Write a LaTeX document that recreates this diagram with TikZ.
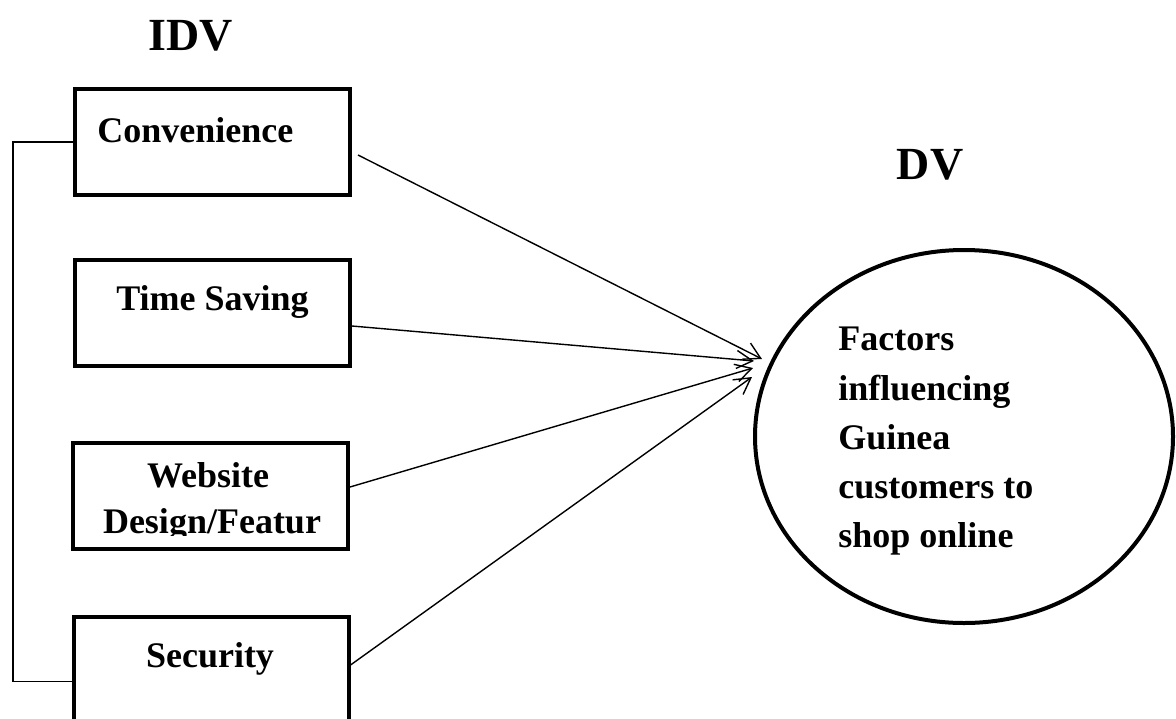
\documentclass[tikz,border=0pt]{standalone}
\usepackage{fontspec}
\setmainfont{Liberation Serif}
\usetikzlibrary{arrows.meta,shapes.geometric,calc}

\begin{document}
\begin{tikzpicture}
[x=0.5pt,y=-0.5pt,%
  box/.style={draw,line width=2pt,minimum width=137.5pt,minimum height=53pt,inner sep=0pt},%
  lbl/.style={font=\fontsize{18}{22}\selectfont\bfseries,inner sep=0pt,anchor=base},%
  head/.style={font=\fontsize{23}{28}\selectfont\bfseries,inner sep=0pt,anchor=base},%
  link/.style={line width=0.7pt,-{Straight Barb[length=8pt,width=9pt]}}]
\useasboundingbox (0,0) rectangle (1176,718);
\clip (0,0) rectangle (1176,718);
% headings
\node[head] (idv) at (191,50) {IDV};
\node[head] (dv) at (930,179) {DV};
% independent variables
\node[box] (conv) at (212.5,142) {};
\node[lbl,anchor=base west] (convt) at (97,142) {Convenience};
\node[box] (time) at (212.5,312.5) {};
\node[lbl] (timet) at (212.5,310) {Time Saving};
\node[box] (web) at (210.5,495.5) {};
\node[lbl] (webt) at (208,487) {Website};
\begin{scope}
  \clip (web.north west) rectangle ([yshift=-20pt]web.east);
  \node[lbl] (webu) at (212,533) {Design/Featur};
\end{scope}
\node[box] (sec) at (211,669.5) {};
\node[lbl] (sect) at (210,667) {Security};
% dependent variable
\node[draw,ellipse,line width=2pt,minimum width=209pt,minimum height=186.5pt,inner sep=0pt]
  (fac) at (964,436.5) {};
\node[anchor=north west,align=left,inner sep=0pt,font=\fontsize{18}{24.6}\selectfont\bfseries]
  (fact) at (838,327) {Factors\\influencing\\Guinea\\customers to\\shop online};
% arrow ends
\coordinate (t1) at (762,359);
\coordinate (t2) at (754,361);
\coordinate (t3) at (753,368);
\coordinate (t4) at (752,377);
\draw[link] ($(conv.east)+(6,13)$) -- (t1);
\draw[link] ($(time.east)+(0,13.5)$) -- (t2);
\draw[link] ($(web.east)+(0,-8.5)$) -- (t3);
\draw[link] ($(sec.east)+(0,-4.5)$) -- (t4);
% bracket
\draw[line width=0.7pt] (conv.west) -- ++(-60,0) |- ([yshift=-6pt]sec.west);
\end{tikzpicture}
\end{document}
